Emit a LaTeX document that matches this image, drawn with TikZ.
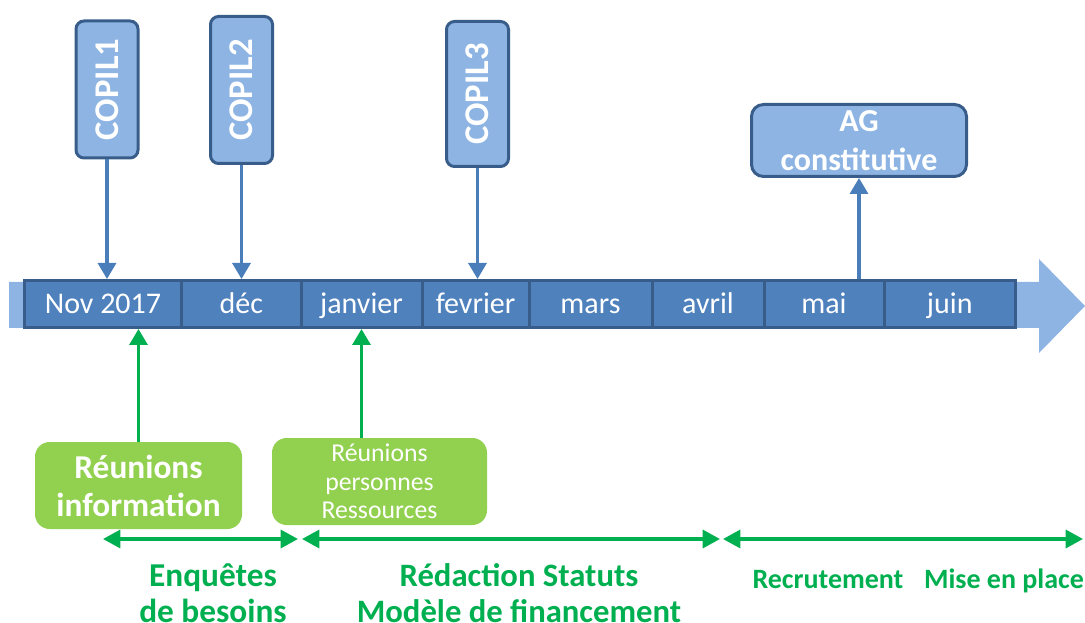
\documentclass[tikz,border=0pt]{standalone}
\usepackage{fontspec}
\setmainfont{Carlito}
\usepackage{graphicx}
\usetikzlibrary{arrows.meta}

\definecolor{barfill}{HTML}{4F81BD}
\definecolor{barline}{HTML}{385D8A}
\definecolor{lightblue}{HTML}{8EB4E3}
\definecolor{arrowblue}{HTML}{4A7EBB}
\definecolor{boxgreen}{HTML}{92D050}
\definecolor{textgreen}{HTML}{00B050}

\tikzset{
  month/.style={draw=barline, fill=barfill, line width=2.25pt, minimum height=35.25pt,
    inner sep=0pt, text height=14.3pt, text depth=0pt, text=white,
    font=\fontsize{22.5}{26}\selectfont},
  copil/.style={draw=barline, fill=lightblue, line width=2.25pt, rounded corners=6pt,
    minimum width=46.5pt, inner sep=0pt, text=white, font=\bfseries\fontsize{26}{30}\selectfont},
  event/.style={draw=barline, fill=lightblue, line width=2.25pt, rounded corners=9pt,
    inner sep=0pt, text=white, align=center, font=\bfseries\fontsize{24}{29}\selectfont},
  greenbox/.style={fill=boxgreen, rounded corners=11pt, inner sep=0pt, text=white, align=center},
  phase/.style={text=textgreen, align=center, inner sep=0pt},
  bluearrow/.style={arrowblue, line width=2.5pt, -{Triangle[length=12pt,width=13.5pt]}},
  greenarrow/.style={textgreen, line width=2.5pt, -{Triangle[length=12pt,width=13.5pt]}},
  span/.style={textgreen, line width=2.5pt,
    {Triangle[length=13pt,width=13.5pt]}-{Triangle[length=13pt,width=13.5pt]}},
}

\begin{document}
\begin{tikzpicture}[x=0.75pt, y=-0.75pt]
\useasboundingbox (0,0) rectangle (1085,623);

% big arrow behind the months
\fill[lightblue] (9,282) -- (1039,282) -- (1039,259) -- (1085,306) -- (1039,353)
  -- (1039,328) -- (9,328) -- cycle;

% months
\node[month, minimum width=117.75pt] (nov) at (103,304) {Nov 2017};
\node[month, minimum width=89.625pt] (dec) at (241.25,304) {déc};
\node[month, minimum width=90.75pt] (jan) at (361.5,304) {janvier};
\node[month, minimum width=80.25pt] (fev) at (475.5,304) {fevrier};
\node[month, minimum width=92.25pt] (mar) at (590.5,304) {mars};
\node[month, minimum width=84pt] (avr) at (708,304) {avril};
\node[month, minimum width=90pt] (mai) at (824,304) {mai};
\node[month, minimum width=98.625pt] (jun) at (949.75,304) {juin};

% COPIL
\node[copil, minimum height=102.75pt] (c1) at (107,89.5) {\rotatebox{90}{COPIL1}};
\node[copil, minimum height=110.25pt] (c2) at (241.5,90) {\rotatebox{90}{COPIL2}};
\node[copil, minimum height=108.75pt] (c3) at (477.5,94) {\rotatebox{90}{COPIL3}};
\draw[bluearrow] (c1.south) -- (c1.south |- nov.north);
\draw[bluearrow] (c2.south) -- (c2.south |- dec.north);
\draw[bluearrow] (c3.south) -- (c3.south |- fev.north);

% AG
\node[event, minimum width=161.25pt, minimum height=54pt] (ag) at (859,140.5)
  {AG\\constitutive};
\draw[bluearrow] (ag.south |- mai.north) -- (ag.south);

% reunions
\node[greenbox, minimum width=155.25pt, minimum height=65.25pt,
  font=\bfseries\fontsize{25}{28.5}\selectfont] (g1) at (138.5,485.5)
  {Réunions\\information};
\node[greenbox, minimum width=161.25pt, minimum height=65.25pt,
  font=\fontsize{19.3}{21.4}\selectfont] (g2) at (379.5,481.5)
  {Réunions\\personnes\\Ressources};
\draw[greenarrow] (g1.north) -- (g1.north |- nov.south);
\draw[greenarrow] (jan.south |- g2.north) -- (jan.south);

% phases
\coordinate (s1) at (103,539);
\coordinate (s2) at (298,539);
\coordinate (s3) at (302,539);
\coordinate (s4) at (720,539);
\coordinate (s5) at (723,539);
\coordinate (s6) at (1083,539);
\draw[span] (s1) -- (s2);
\draw[span] (s3) -- (s4);
\draw[span] (s5) -- (s6);

\node[phase, anchor=base, font=\bfseries\fontsize{25}{27}\selectfont] (enq) at (213,622)
  {Enquêtes\\de besoins};
\node[phase, anchor=base, font=\bfseries\fontsize{24.5}{27}\selectfont] (red) at (519,622)
  {Rédaction Statuts\\Modèle de financement};
\node[phase, anchor=base, font=\bfseries\fontsize{21}{25}\selectfont] (rec) at (828,588)
  {Recrutement};
\node[phase, anchor=base, font=\bfseries\fontsize{21}{25}\selectfont] (mise) at (1004,588)
  {Mise en place};
\end{tikzpicture}
\end{document}
